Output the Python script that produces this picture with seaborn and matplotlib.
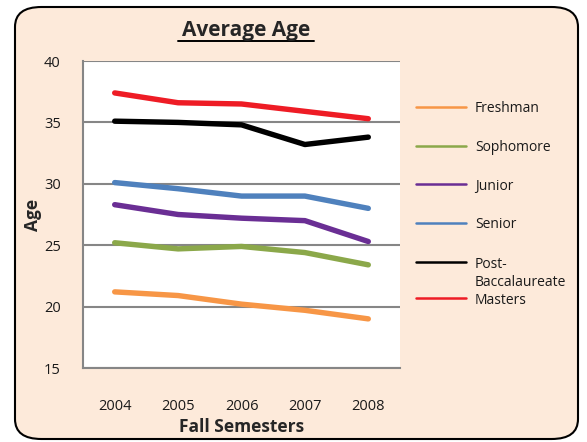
import matplotlib
matplotlib.use("Agg")
import matplotlib.pyplot as plt
from matplotlib.patches import FancyBboxPatch
from matplotlib.lines import Line2D
import seaborn as sns
import pandas as pd

# Data
years = [2004, 2005, 2006, 2007, 2008]
freshman = [21.2, 20.9, 20.2, 19.7, 19.0]
sophomore = [25.2, 24.7, 24.9, 24.4, 23.4]
junior = [28.3, 27.5, 27.2, 27.0, 25.3]
senior = [30.1, 29.6, 29.0, 29.0, 28.0]
post_bacc = [35.1, 35.0, 34.8, 33.2, 33.8]
masters = [37.4, 36.6, 36.5, 35.9, 35.3]

groups = ["Freshman", "Sophomore", "Junior", "Senior", "Post-\nBaccalaureate", "Masters"]
colors = ["#F79646", "#8BA84A", "#6A2E94", "#4F81BD", "#000000", "#EE1C25"]

series = [freshman, sophomore, junior, senior, post_bacc, masters]
df = pd.DataFrame({
    "Year": years * len(groups),
    "Age": [v for s in series for v in s],
    "Group": [g for g in groups for _ in years],
})

sns.set_style("white")
plt.rcParams["font.family"] = ["Open Sans", "DejaVu Sans"]

W, H = 587, 442
fig = plt.figure(figsize=(W / 100, H / 100), dpi=100)
fig.patch.set_facecolor("white")
bg = FancyBboxPatch((15 / W, 3 / H), 563 / W, 432 / H, boxstyle="round,pad=0,rounding_size=0.045",
                    transform=fig.transFigure, facecolor="#FDEADA", edgecolor="black",
                    linewidth=1.5, zorder=-1)
fig.patches.append(bg)

ax = fig.add_axes([83 / W, 1 - 368 / H, 317 / W, 307 / H])
ax.set_zorder(1)
ax.set_facecolor("white")
sns.lineplot(data=df, x="Year", y="Age", hue="Group", hue_order=groups,
             palette=colors, linewidth=3.9, ax=ax, legend=False, solid_capstyle="round")

ax.set_xlim(2003.5, 2008.5)
ax.set_ylim(15, 40)
ax.set_yticks([15, 20, 25, 30, 35, 40])
ax.set_xticks(years)
ax.tick_params(axis="y", length=6, width=1.5, color="#868686", labelsize=10.5, pad=10)
ax.tick_params(axis="x", length=0, labelsize=10.5, pad=22)
ax.yaxis.grid(True, color="#868686", linewidth=1.5)
ax.set_axisbelow(True)
for side in ["top", "right"]:
    ax.spines[side].set_visible(False)
for side in ["left", "bottom"]:
    ax.spines[side].set_color("#868686")
    ax.spines[side].set_linewidth(1.5)
for lab in ax.get_xticklabels() + ax.get_yticklabels():
    lab.set_color("#1a1a1a")

ax.set_xlabel("Fall Semesters", fontsize=12.5, fontweight="bold")
ax.set_ylabel("Age", fontsize=12.5, fontweight="bold")
ax.xaxis.set_label_coords(0.5, -0.162)
ax.yaxis.set_label_coords(-0.128, 0.5)

fig.text(246 / W, 1 - 36 / H, "Average Age", ha="center", va="baseline",
         fontsize=15, fontweight="bold")
fig.add_artist(Line2D([178 / W, 314 / W], [1 - 41 / H, 1 - 41 / H], transform=fig.transFigure,
                      color="black", linewidth=1.4))

# legend drawn by hand so the two-line entry keeps Excel's spacing
legend_rows = [107, 146, 184, 223, 262, 298]
for label, color, row in zip(groups, colors, legend_rows):
    yf = 1 - row / H
    fig.add_artist(Line2D([416 / W, 466 / W], [yf, yf], transform=fig.transFigure,
                          color=color, linewidth=1.8))
    for i, part in enumerate(label.split("\n")):
        fig.text(475 / W, 1 - (row + 2 + 18 * i) / H, part, ha="left", va="center",
                 fontsize=10, color="#1a1a1a")

fig.savefig("out.png", dpi=100, facecolor=fig.get_facecolor())
